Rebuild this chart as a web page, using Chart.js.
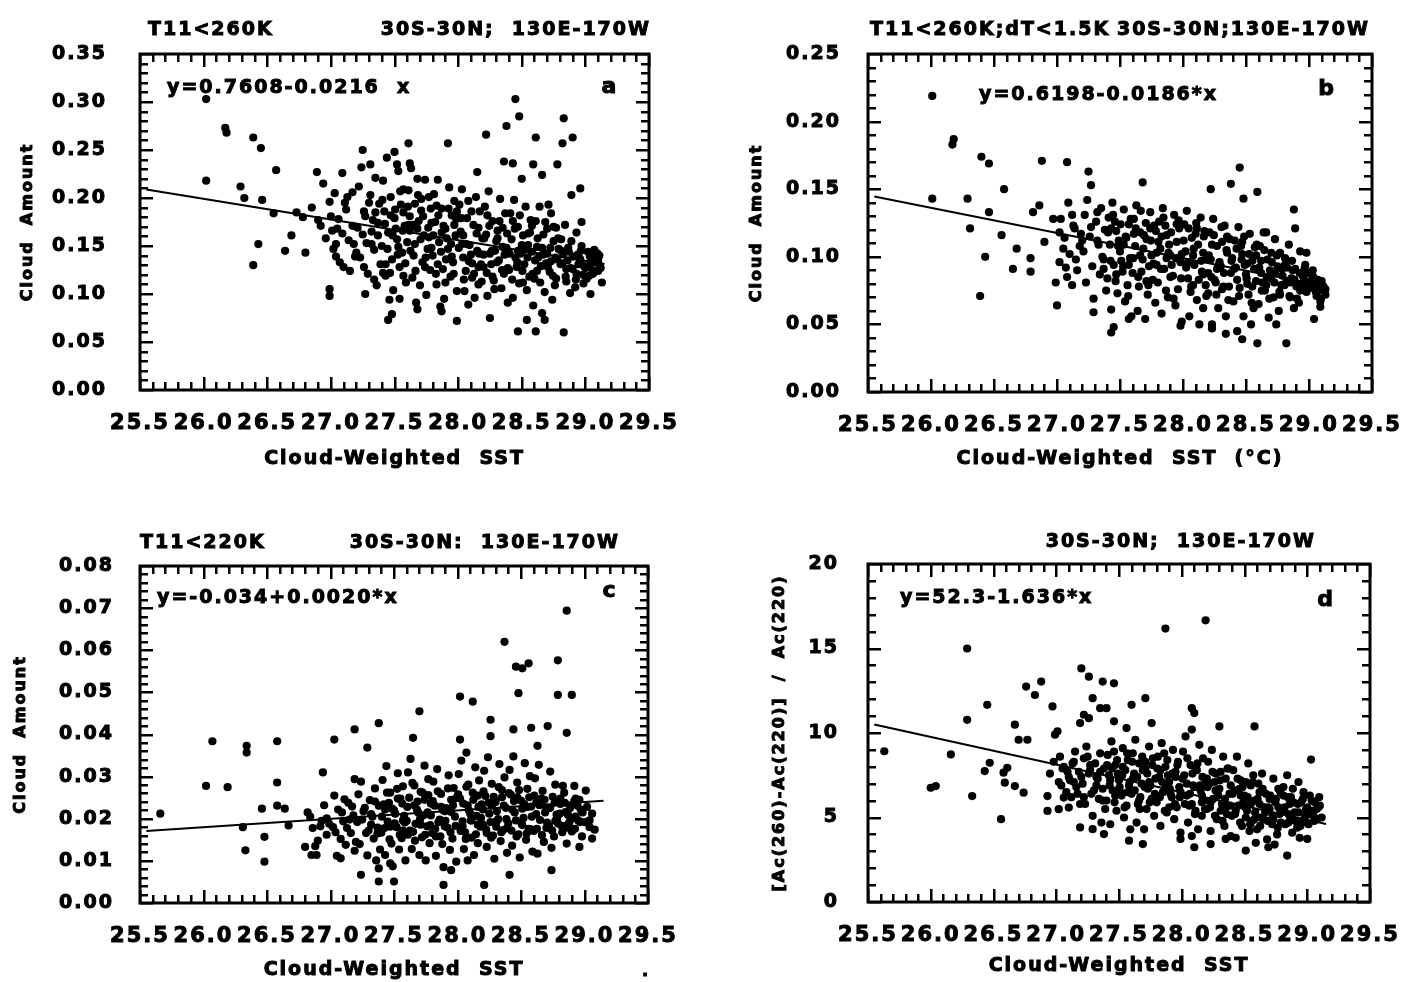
<!DOCTYPE html>
<html lang="en">
<head>
<meta charset="UTF-8">
<title>Cloud Amount vs Cloud-Weighted SST</title>
<script src="https://cdn.jsdelivr.net/npm/chart.js"></script>
<style>
  body { margin: 0; background: #fff; }
  .sheet { position: relative; width: 1405px; height: 982px; overflow: hidden; }
  .sheet canvas { position: absolute; }
</style>
</head>
<body>
<div class="sheet">
  <canvas id="panelA" width="702" height="490" style="left:0;top:0"></canvas>
  <canvas id="panelB" width="703" height="490" style="left:702px;top:0"></canvas>
  <canvas id="panelC" width="702" height="492" style="left:0;top:490px"></canvas>
  <canvas id="panelD" width="703" height="492" style="left:702px;top:490px"></canvas>
</div>
<script>
// shared x axis (cloud-weighted SST, deg C)
const sstTicks = [25.5, 26.0, 26.5, 27.0, 27.5, 28.0, 28.5, 29.0, 29.5];
const fitSpan = [25.55, 29.15];

// y axis ticks per panel
const cloudTicksA = [0, 0.05, 0.10, 0.15, 0.20, 0.25, 0.30, 0.35];
const cloudTicksB = [0, 0.05, 0.10, 0.15, 0.20, 0.25];
const cloudTicksC = [0, 0.01, 0.02, 0.03, 0.04, 0.05, 0.06, 0.07, 0.08];
const ratioTicksD = [0, 5, 10, 15, 20];

// regression fits [intercept, slope]
const fitA = [0.7608, -0.0216];
const fitB = [0.6198, -0.0186];
const fitC = [-0.034, 0.0020];
const fitD = [52.3, -1.636];

// (a) T11<260K
const pointsA = [
  [26.02,0.303],[26.02,0.218],[26.17,0.273],[26.18,0.268],[26.29,0.212],[26.32,0.2],[26.39,0.263],[26.45,0.252],
  [26.39,0.13],[26.43,0.152],[26.46,0.198],[26.57,0.229],[26.55,0.184],[26.64,0.145],[26.69,0.161],[26.73,0.185],
  [26.78,0.18],[26.8,0.143],[26.85,0.19],[26.89,0.227],[26.9,0.177],[26.94,0.215],[26.99,0.105],[26.99,0.098],
  [26.99,0.196],[27.01,0.166],[27.04,0.152],[27.09,0.226],[27.1,0.128],[27.17,0.206],[27.2,0.143],[27.25,0.25],
  [27.27,0.1],[27.31,0.235],[27.34,0.115],[27.41,0.122],[27.45,0.073],[27.48,0.079],[27.5,0.248],[27.52,0.235],
  [27.54,0.095],[27.61,0.257],[27.62,0.236],[27.68,0.084],[27.68,0.22],[27.87,0.082],[27.92,0.257],[27.99,0.072],
  [28.15,0.227],[28.22,0.266],[28.25,0.075],[28.38,0.275],[28.36,0.238],[28.43,0.236],[28.45,0.303],[28.48,0.285],
  [28.5,0.22],[28.47,0.061],[28.54,0.073],[28.61,0.263],[28.59,0.235],[28.61,0.061],[28.66,0.224],[28.66,0.08],
  [28.68,0.073],[28.78,0.235],[28.82,0.257],[28.83,0.283],[28.83,0.06],[28.9,0.263],[28.89,0.203],[28.96,0.21],
  [28.97,0.175],[29.04,0.1],[29.13,0.112],[29.11,0.14],[28.71,0.193],[28.75,0.17],
  [27.03,0.205],[27.12,0.188],[27.06,0.178],[27.17,0.171],[27.09,0.163],[27.14,0.156],[27.02,0.147],[27.19,0.139],
  [27.07,0.133],[27.15,0.124],[27.11,0.195],[27.05,0.168],
  [27.24,0.232],[27.35,0.221],[27.22,0.212],[27.31,0.203],[27.38,0.194],[27.26,0.186],[27.33,0.177],[27.21,0.169],
  [27.37,0.161],[27.28,0.153],[27.34,0.146],[27.23,0.138],[27.39,0.131],[27.29,0.121],[27.36,0.109],[27.27,0.181],[27.32,0.165],
  [27.44,0.242],[27.53,0.228],[27.41,0.218],[27.57,0.209],[27.47,0.201],[27.55,0.193],[27.42,0.186],[27.5,0.179],
  [27.58,0.171],[27.45,0.164],[27.52,0.157],[27.4,0.15],[27.56,0.143],[27.48,0.136],[27.54,0.128],[27.43,0.119],
  [27.59,0.112],[27.49,0.104],[27.46,0.094],[27.51,0.168],[27.57,0.185],
  [27.63,0.231],[27.74,0.219],[27.61,0.208],[27.77,0.201],[27.66,0.194],[27.71,0.187],[27.62,0.181],[27.79,0.174],
  [27.68,0.168],[27.73,0.161],[27.6,0.154],[27.76,0.147],[27.65,0.14],[27.72,0.133],[27.78,0.125],[27.64,0.117],
  [27.7,0.109],[27.75,0.099],[27.67,0.091],[27.69,0.176],[27.77,0.159],[27.62,0.166],
  [27.84,0.219],[27.93,0.211],[27.81,0.204],[27.97,0.197],[27.87,0.189],[27.95,0.182],[27.82,0.175],[27.9,0.168],
  [27.98,0.161],[27.85,0.154],[27.92,0.147],[27.8,0.14],[27.96,0.133],[27.88,0.126],[27.94,0.118],[27.83,0.11],
  [27.99,0.103],[27.89,0.095],[27.86,0.087],[27.91,0.158],[27.97,0.172],[27.84,0.131],
  [28.03,0.209],[28.14,0.201],[28.01,0.193],[28.17,0.186],[28.07,0.179],[28.12,0.172],[28.02,0.165],[28.19,0.158],
  [28.09,0.151],[28.15,0.145],[28.04,0.138],[28.18,0.131],[28.06,0.124],[28.11,0.117],[28.16,0.11],[28.05,0.103],
  [28.13,0.096],[28.08,0.089],[28.1,0.141],[28.16,0.128],[28.03,0.152],
  [28.24,0.207],[28.33,0.199],[28.21,0.191],[28.37,0.184],[28.27,0.176],[28.35,0.169],[28.22,0.162],[28.3,0.155],
  [28.38,0.148],[28.25,0.142],[28.32,0.135],[28.2,0.128],[28.36,0.121],[28.28,0.114],[28.34,0.106],[28.23,0.098],
  [28.39,0.091],[28.29,0.145],[28.26,0.131],[28.31,0.158],
  [28.44,0.198],[28.53,0.191],[28.41,0.184],[28.57,0.177],[28.47,0.17],[28.55,0.163],[28.42,0.157],[28.5,0.151],
  [28.58,0.144],[28.45,0.138],[28.52,0.131],[28.4,0.125],[28.56,0.118],[28.48,0.111],[28.54,0.104],[28.43,0.096],
  [28.59,0.088],[28.49,0.142],[28.46,0.128],[28.51,0.161],
  [28.64,0.191],[28.73,0.184],[28.61,0.176],[28.77,0.169],[28.67,0.162],[28.75,0.155],[28.62,0.149],[28.7,0.142],
  [28.78,0.136],[28.65,0.129],[28.72,0.123],[28.6,0.116],[28.76,0.109],[28.68,0.102],[28.74,0.094],[28.63,0.138],
  [28.69,0.132],[28.79,0.147],
  [28.84,0.172],[28.93,0.164],[28.81,0.157],[28.97,0.15],[28.87,0.144],[28.95,0.138],[28.82,0.132],[28.9,0.126],
  [28.98,0.12],[28.85,0.113],[28.92,0.107],[28.88,0.101],[28.94,0.141],[28.86,0.135],[28.99,0.129],
  [29.02,0.144],[29.08,0.138],[29.04,0.132],[29.12,0.127],[29.06,0.121],[29.01,0.116],[29.1,0.135],[29.05,0.141],
  // densest part of the cloud
  [26.92,0.171],[26.96,0.158],[27.0,0.181],[27.04,0.139],[27.13,0.201],[27.18,0.152],[27.26,0.128],[27.3,0.195],[27.25,0.162],[27.35,0.185],
  [27.405,0.198],[27.425,0.173],[27.445,0.147],[27.465,0.122],[27.485,0.161],[27.505,0.188],[27.525,0.141],[27.545,0.207],[27.565,0.166],[27.585,0.132],
  [27.605,0.191],[27.625,0.145],[27.645,0.172],[27.665,0.124],[27.685,0.203],[27.705,0.157],[27.725,0.181],[27.745,0.138],[27.765,0.169],[27.785,0.189],
  [27.805,0.161],[27.825,0.121],[27.845,0.182],[27.865,0.144],[27.885,0.171],[27.905,0.136],[27.925,0.189],[27.945,0.152],[27.965,0.121],[27.985,0.178],
  [28.005,0.148],[28.025,0.179],[28.045,0.115],[28.065,0.152],[28.085,0.134],[28.105,0.186],[28.125,0.121],[28.145,0.163],[28.165,0.142],[28.185,0.113],
  [28.205,0.158],[28.225,0.122],[28.245,0.171],[28.265,0.145],[28.285,0.105],[28.305,0.133],[28.325,0.176],[28.345,0.125],[28.365,0.141],[28.385,0.163],
  [28.405,0.142],[28.425,0.115],[28.445,0.168],[28.465,0.133],[28.485,0.182],[28.505,0.124],[28.525,0.146],[28.545,0.138],[28.565,0.164],[28.585,0.121],
  [28.605,0.135],[28.625,0.158],[28.645,0.112],[28.665,0.141],[28.685,0.175],[28.705,0.128],[28.725,0.148],[28.745,0.119],[28.765,0.138],[28.785,0.158],
  [28.805,0.131],[28.825,0.142],[28.845,0.118],[28.865,0.148],[28.885,0.127],[28.905,0.139],[28.925,0.115],[28.945,0.131],[28.965,0.145],[28.985,0.111],
  [29.015,0.128],[29.035,0.139],[29.055,0.125],[29.075,0.133],[29.095,0.142],[29.115,0.129],
  [27.32,0.152],[27.37,0.174],[27.43,0.131],[27.47,0.182],[27.53,0.149],[27.57,0.119],[27.61,0.172],[27.66,0.152],[27.71,0.199],[27.74,0.128],
  [27.79,0.148],[27.83,0.192],[27.87,0.164],[27.9,0.112],[27.95,0.139],[27.99,0.186],[28.04,0.161],[28.08,0.197],[28.11,0.132],[28.16,0.169],
  [28.2,0.141],[28.23,0.182],[28.27,0.118],[28.31,0.166],[28.35,0.149],[28.39,0.127],[28.43,0.176],[28.47,0.145],[28.51,0.112],[28.55,0.151],
  [28.58,0.171],[28.62,0.124],[28.66,0.148],[28.7,0.168],[28.73,0.134],[28.77,0.116],[28.81,0.145],[28.85,0.126],[28.89,0.155],[28.93,0.121],
  [28.96,0.136],[29.0,0.127],[29.03,0.119],[29.07,0.146],[29.1,0.124]
];

// (b) T11<260K; dT<1.5K
const pointsB = [
  [26.01,0.219],[26.18,0.187],[26.17,0.183],[26.01,0.143],[26.29,0.143],[26.31,0.121],[26.4,0.174],[26.46,0.169],
  [26.46,0.133],[26.43,0.1],[26.39,0.071],[26.58,0.15],[26.56,0.116],[26.65,0.091],[26.68,0.106],[26.79,0.089],
  [26.79,0.099],[26.81,0.133],[26.88,0.171],[26.86,0.138],[26.9,0.111],[26.97,0.128],[26.99,0.081],[27.0,0.064],
  [27.08,0.17],[27.09,0.14],[27.13,0.123],[27.25,0.163],[27.27,0.153],[27.29,0.059],[27.43,0.044],[27.45,0.048],
  [27.68,0.155],[27.57,0.054],[27.98,0.049],[28.22,0.15],[28.23,0.047],[28.34,0.043],[28.38,0.154],[28.45,0.166],
  [28.48,0.143],[28.59,0.148],[28.47,0.039],[28.59,0.036],[28.82,0.036],[28.88,0.135],[28.89,0.121],[28.98,0.103],
  [29.04,0.054],[29.09,0.063],[29.13,0.076],[28.66,0.118],
  [27.03,0.128],[27.14,0.121],[27.06,0.114],[27.18,0.108],[27.1,0.102],[27.02,0.096],[27.16,0.09],[27.08,0.085],
  [27.12,0.079],[27.19,0.117],[27.05,0.106],
  [27.24,0.142],[27.35,0.136],[27.22,0.131],[27.31,0.126],[27.38,0.12],[27.26,0.115],[27.33,0.109],[27.21,0.104],
  [27.37,0.098],[27.28,0.093],[27.34,0.087],[27.23,0.081],[27.39,0.075],[27.29,0.069],[27.36,0.1],[27.27,0.122],[27.32,0.133],
  [27.44,0.14],[27.53,0.135],[27.41,0.129],[27.57,0.124],[27.47,0.119],[27.55,0.114],[27.42,0.109],[27.5,0.104],
  [27.58,0.099],[27.45,0.094],[27.52,0.089],[27.4,0.084],[27.56,0.079],[27.48,0.073],[27.54,0.067],[27.43,0.061],
  [27.59,0.056],[27.49,0.112],[27.51,0.097],[27.46,0.126],
  [27.63,0.138],[27.74,0.133],[27.61,0.128],[27.77,0.123],[27.66,0.118],[27.71,0.113],[27.62,0.108],[27.79,0.103],
  [27.68,0.098],[27.73,0.093],[27.6,0.088],[27.76,0.083],[27.65,0.078],[27.72,0.072],[27.78,0.066],[27.64,0.06],
  [27.7,0.054],[27.69,0.116],[27.75,0.101],[27.67,0.089],
  [27.84,0.136],[27.93,0.131],[27.81,0.126],[27.97,0.121],[27.87,0.116],[27.95,0.111],[27.82,0.106],[27.9,0.101],
  [27.98,0.096],[27.85,0.091],[27.92,0.086],[27.8,0.081],[27.96,0.076],[27.88,0.07],[27.94,0.064],[27.83,0.058],
  [27.99,0.052],[27.89,0.109],[27.91,0.094],[27.86,0.123],
  [28.03,0.134],[28.14,0.129],[28.01,0.124],[28.17,0.119],[28.07,0.114],[28.12,0.109],[28.02,0.104],[28.19,0.099],
  [28.09,0.094],[28.15,0.089],[28.04,0.084],[28.18,0.079],[28.06,0.074],[28.11,0.068],[28.16,0.062],[28.05,0.056],
  [28.13,0.05],[28.08,0.101],[28.1,0.117],[28.16,0.087],
  [28.24,0.128],[28.33,0.123],[28.21,0.118],[28.37,0.113],[28.27,0.108],[28.35,0.103],[28.22,0.098],[28.3,0.093],
  [28.38,0.088],[28.25,0.083],[28.32,0.078],[28.2,0.073],[28.36,0.068],[28.28,0.062],[28.34,0.056],[28.23,0.05],
  [28.29,0.096],[28.31,0.111],[28.26,0.081],
  [28.44,0.122],[28.53,0.117],[28.41,0.112],[28.57,0.107],[28.47,0.102],[28.55,0.097],[28.42,0.092],[28.5,0.087],
  [28.58,0.082],[28.45,0.077],[28.52,0.072],[28.4,0.067],[28.56,0.062],[28.48,0.056],[28.54,0.05],[28.43,0.045],
  [28.49,0.094],[28.51,0.08],[28.46,0.108],
  [28.64,0.118],[28.73,0.113],[28.61,0.108],[28.77,0.103],[28.67,0.098],[28.75,0.093],[28.62,0.088],[28.7,0.084],
  [28.78,0.079],[28.65,0.075],[28.72,0.07],[28.6,0.065],[28.76,0.06],[28.68,0.055],[28.74,0.05],[28.69,0.09],
  [28.63,0.081],[28.79,0.086],
  [28.84,0.109],[28.93,0.104],[28.81,0.099],[28.97,0.094],[28.87,0.09],[28.95,0.086],[28.82,0.082],[28.9,0.078],
  [28.98,0.074],[28.85,0.07],[28.92,0.066],[28.88,0.062],[28.94,0.08],[28.86,0.084],[28.99,0.088],
  [29.02,0.088],[29.07,0.083],[29.04,0.079],[29.11,0.075],[29.06,0.071],[29.01,0.082],[29.09,0.067],[29.13,0.072],
  // densest part of the cloud
  [27.02,0.118],[27.07,0.092],[27.15,0.098],[27.12,0.131],[27.2,0.112],
  [27.405,0.118],[27.425,0.097],[27.445,0.131],[27.465,0.082],[27.485,0.108],[27.505,0.124],[27.525,0.093],[27.545,0.115],[27.565,0.071],[27.585,0.128],
  [27.605,0.099],[27.625,0.121],[27.645,0.085],[27.665,0.134],[27.685,0.106],[27.705,0.125],[27.725,0.079],[27.745,0.112],[27.765,0.095],[27.785,0.119],
  [27.805,0.111],[27.825,0.091],[27.845,0.129],[27.865,0.075],[27.885,0.103],[27.905,0.118],[27.925,0.069],[27.945,0.099],[27.965,0.127],[27.985,0.084],
  [28.005,0.112],[28.025,0.092],[28.045,0.121],[28.065,0.078],[28.085,0.106],[28.105,0.125],[28.125,0.083],[28.145,0.097],[28.165,0.115],[28.185,0.071],
  [28.205,0.101],[28.225,0.085],[28.245,0.116],[28.265,0.072],[28.285,0.094],[28.305,0.122],[28.325,0.088],[28.345,0.105],[28.365,0.078],[28.385,0.097],
  [28.405,0.091],[28.425,0.106],[28.445,0.071],[28.465,0.098],[28.485,0.115],[28.505,0.084],[28.525,0.102],[28.545,0.066],[28.565,0.091],[28.585,0.109],
  [28.605,0.092],[28.625,0.075],[28.645,0.105],[28.665,0.085],[28.685,0.069],[28.705,0.096],[28.725,0.081],[28.745,0.101],[28.765,0.074],[28.785,0.091],
  [28.805,0.079],[28.825,0.092],[28.845,0.071],[28.865,0.097],[28.885,0.083],[28.905,0.069],[28.925,0.088],[28.945,0.076],[28.965,0.091],[28.985,0.081],
  [29.015,0.077],[29.035,0.085],[29.055,0.074],[29.075,0.08],[29.095,0.069],[29.115,0.078],
  [27.32,0.112],[27.37,0.091],[27.43,0.121],[27.47,0.087],[27.53,0.109],[27.57,0.094],[27.61,0.117],[27.66,0.101],[27.71,0.082],[27.74,0.121],
  [27.79,0.094],[27.83,0.115],[27.87,0.099],[27.9,0.085],[27.95,0.124],[27.99,0.102],[28.04,0.096],[28.08,0.079],[28.11,0.121],[28.16,0.103],
  [28.2,0.088],[28.23,0.109],[28.27,0.091],[28.31,0.076],[28.35,0.115],[28.39,0.099],[28.43,0.083],[28.47,0.111],[28.51,0.095],[28.55,0.078],
  [28.58,0.101],[28.62,0.097],[28.66,0.079],[28.7,0.103],[28.73,0.088],[28.77,0.072],[28.81,0.094],[28.85,0.081],[28.89,0.091],[28.93,0.075],
  [28.96,0.083],[29.0,0.078],[29.03,0.09],[29.07,0.076],[29.1,0.082]
];

// (c) T11<220K
const pointsC = [
  [25.66,0.0212],[26.07,0.0384],[26.02,0.0278],[26.19,0.0275],[26.34,0.0373],[26.34,0.0357],[26.46,0.0224],[26.48,0.0157],
  [26.48,0.0098],[26.33,0.0125],[26.31,0.018],[26.58,0.0384],[26.58,0.0286],[26.58,0.0231],[26.64,0.0224],[26.67,0.0184],
  [26.8,0.0133],[26.85,0.0114],[26.89,0.0114],[26.94,0.031],[27.03,0.0388],[27.08,0.0106],[27.19,0.0412],[27.19,0.0294],
  [27.29,0.0369],[27.24,0.0067],[27.38,0.0427],[27.38,0.0051],[27.38,0.0082],[27.5,0.0051],[27.47,0.0094],[27.7,0.0455],
  [27.65,0.0392],[27.89,0.0043],[27.95,0.0078],[28.02,0.049],[28.12,0.0478],[28.02,0.0388],[28.07,0.0357],[28.21,0.0043],
  [28.26,0.0435],[28.26,0.0396],[28.37,0.062],[28.44,0.0412],[28.48,0.0498],[28.46,0.0561],[28.51,0.0557],[28.56,0.0569],
  [28.41,0.0067],[28.58,0.0416],[28.71,0.042],[28.63,0.0373],[28.74,0.0078],[28.79,0.0576],[28.79,0.0494],[28.9,0.0494],
  [28.86,0.0694],[28.86,0.0404],[28.83,0.0278],[28.92,0.0278],[29.01,0.0267],[28.86,0.0141],[28.96,0.0133],[29.06,0.0153],
  [29.04,0.018],[28.9,0.0176],
  [26.82,0.0215],[26.93,0.0195],[26.86,0.0178],[26.97,0.0162],[26.9,0.0148],[26.84,0.0205],[26.95,0.0232],[26.88,0.0135],[26.99,0.0188],
  [27.03,0.0255],[27.14,0.0238],[27.06,0.0222],[27.18,0.0208],[27.1,0.0194],[27.02,0.018],[27.16,0.0166],[27.08,0.0152],
  [27.12,0.0138],[27.19,0.0124],[27.05,0.0112],[27.15,0.0198],[27.11,0.0246],
  [27.24,0.0288],[27.35,0.0272],[27.22,0.0258],[27.31,0.0244],[27.38,0.0231],[27.26,0.0218],[27.33,0.0205],[27.21,0.0192],
  [27.37,0.0179],[27.28,0.0166],[27.34,0.0153],[27.23,0.014],[27.39,0.0127],[27.29,0.0113],[27.36,0.0101],[27.27,0.0226],[27.32,0.0186],
  [27.44,0.0325],[27.53,0.0308],[27.41,0.0292],[27.57,0.0277],[27.47,0.0262],[27.55,0.0248],[27.42,0.0234],[27.5,0.022],
  [27.58,0.0207],[27.45,0.0193],[27.52,0.018],[27.4,0.0167],[27.56,0.0154],[27.48,0.0141],[27.54,0.0127],[27.43,0.0114],
  [27.59,0.0101],[27.49,0.0087],[27.51,0.0212],[27.46,0.0238],[27.57,0.0172],
  [27.63,0.0342],[27.74,0.0326],[27.61,0.031],[27.77,0.0294],[27.66,0.0279],[27.71,0.0264],[27.62,0.025],[27.79,0.0236],
  [27.68,0.0222],[27.73,0.0208],[27.6,0.0195],[27.76,0.0182],[27.65,0.0169],[27.72,0.0156],[27.78,0.0142],[27.64,0.0128],
  [27.7,0.0114],[27.75,0.0101],[27.69,0.0215],[27.67,0.0188],[27.77,0.0256],
  [27.84,0.0318],[27.93,0.0303],[27.81,0.0288],[27.97,0.0273],[27.87,0.0259],[27.95,0.0245],[27.82,0.0231],[27.9,0.0218],
  [27.98,0.0205],[27.85,0.0192],[27.92,0.0179],[27.8,0.0166],[27.96,0.0153],[27.88,0.014],[27.94,0.0126],[27.83,0.0112],
  [27.99,0.0098],[27.89,0.0085],[27.91,0.0225],[27.86,0.0198],
  [28.03,0.0338],[28.14,0.0322],[28.01,0.0306],[28.17,0.0291],[28.07,0.0276],[28.12,0.0262],[28.02,0.0248],[28.19,0.0234],
  [28.09,0.022],[28.15,0.0207],[28.04,0.0194],[28.18,0.0181],[28.06,0.0168],[28.11,0.0155],[28.16,0.0142],[28.05,0.0128],
  [28.13,0.0114],[28.08,0.0101],[28.1,0.0212],[28.16,0.0186],
  [28.24,0.0346],[28.33,0.033],[28.21,0.0314],[28.37,0.0298],[28.27,0.0283],[28.35,0.0268],[28.22,0.0254],[28.3,0.024],
  [28.38,0.0226],[28.25,0.0212],[28.32,0.0199],[28.2,0.0186],[28.36,0.0173],[28.28,0.016],[28.34,0.0147],[28.23,0.0133],
  [28.39,0.0119],[28.29,0.0105],[28.31,0.0218],[28.26,0.0192],
  [28.44,0.0348],[28.53,0.0332],[28.41,0.0316],[28.57,0.0301],[28.47,0.0286],[28.55,0.0271],[28.42,0.0257],[28.5,0.0243],
  [28.58,0.0229],[28.45,0.0215],[28.52,0.0202],[28.4,0.0189],[28.56,0.0176],[28.48,0.0163],[28.54,0.015],[28.43,0.0136],
  [28.59,0.0122],[28.49,0.0108],[28.51,0.0224],[28.46,0.0196],
  [28.64,0.0328],[28.73,0.0312],[28.61,0.0296],[28.77,0.0281],[28.67,0.0266],[28.75,0.0252],[28.62,0.0238],[28.7,0.0224],
  [28.78,0.021],[28.65,0.0197],[28.72,0.0184],[28.6,0.0171],[28.76,0.0158],[28.68,0.0145],[28.74,0.0131],[28.63,0.0117],
  [28.69,0.0215],[28.79,0.0189],
  [28.84,0.0262],[28.93,0.0248],[28.81,0.0235],[28.97,0.0222],[28.87,0.0209],[28.95,0.0196],[28.82,0.0183],[28.9,0.017],
  [28.98,0.0158],[28.85,0.0216],[28.92,0.0242],[28.88,0.0191],
  [29.02,0.0228],[29.06,0.0212],[29.04,0.0196],[29.08,0.0174],
  // densest part of the cloud
  [26.92,0.0182],[26.97,0.0201],[27.04,0.0168],[27.09,0.0215],[27.13,0.0178],[27.17,0.0229],[27.2,0.0145],[27.25,0.0198],[27.3,0.0172],[27.35,0.0241],
  [27.405,0.0205],[27.425,0.0178],[27.445,0.0262],[27.465,0.0151],[27.485,0.0224],[27.505,0.0189],[27.525,0.0271],[27.545,0.0162],[27.565,0.0236],[27.585,0.0191],
  [27.605,0.0228],[27.625,0.0172],[27.645,0.0285],[27.665,0.0148],[27.685,0.0241],[27.705,0.0199],[27.725,0.0262],[27.745,0.0162],[27.765,0.0215],[27.785,0.0185],
  [27.805,0.0242],[27.825,0.0176],[27.845,0.0265],[27.865,0.0158],[27.885,0.0221],[27.905,0.0195],[27.925,0.0272],[27.945,0.0168],[27.965,0.0232],[27.985,0.0183],
  [28.005,0.0258],[28.025,0.0171],[28.045,0.0236],[28.065,0.0152],[28.085,0.0281],[28.105,0.0196],[28.125,0.0245],[28.145,0.0163],[28.165,0.0228],[28.185,0.0202],
  [28.205,0.0265],[28.225,0.0175],[28.245,0.0238],[28.265,0.0155],[28.285,0.0252],[28.305,0.0181],[28.325,0.0275],[28.345,0.0168],[28.365,0.0231],[28.385,0.0199],
  [28.405,0.0261],[28.425,0.0172],[28.445,0.0242],[28.465,0.0158],[28.485,0.0268],[28.505,0.0188],[28.525,0.0235],[28.545,0.0165],[28.565,0.0251],[28.585,0.0205],
  [28.605,0.0255],[28.625,0.0176],[28.645,0.0232],[28.665,0.0161],[28.685,0.0245],[28.705,0.0191],[28.725,0.0226],[28.745,0.0172],[28.765,0.0238],[28.785,0.0202],
  [28.805,0.0212],[28.825,0.0168],[28.845,0.0238],[28.865,0.0185],[28.885,0.0225],[28.905,0.0201],[28.925,0.0176],[28.945,0.0231],[28.965,0.0192],[28.985,0.0215],
  [27.32,0.0211],[27.37,0.0165],[27.43,0.0222],[27.47,0.0181],[27.53,0.0248],[27.57,0.0196],[27.61,0.0162],[27.66,0.0232],[27.71,0.0186],[27.74,0.0245],
  [27.79,0.0208],[27.83,0.0158],[27.87,0.0228],[27.9,0.0182],[27.95,0.0216],[27.99,0.0249],[28.04,0.0182],[28.08,0.0232],[28.11,0.0196],[28.16,0.0255],
  [28.2,0.0222],[28.23,0.0166],[28.27,0.0231],[28.31,0.0195],[28.35,0.0251],[28.39,0.0178],[28.43,0.0222],[28.47,0.0251],[28.51,0.0185],[28.55,0.0228],
  [28.58,0.0175],[28.62,0.0211],[28.66,0.0248],[28.7,0.0178],[28.73,0.0226],[28.77,0.0195],[28.81,0.0248],[28.85,0.0178],[28.89,0.0232],[28.93,0.0205],
  [28.96,0.0245],[29.0,0.0192]
];

// (d) [Ac(260)-Ac(220)] / Ac(220)
const pointsD = [
  [25.63,8.92],[26.16,8.73],[26.0,6.76],[26.04,6.86],[26.29,15.0],[26.29,10.78],[26.33,6.27],[26.45,11.67],
  [26.43,7.75],[26.47,8.24],[26.56,4.9],[26.58,7.65],[26.61,7.94],[26.59,7.06],[26.67,6.86],[26.67,10.49],
  [26.74,6.47],[26.76,12.75],[26.83,12.25],[26.88,13.04],[26.7,9.6],[26.77,9.6],[26.97,11.57],[26.99,9.9],
  [27.01,10.1],[26.93,5.39],[26.93,6.27],[27.02,5.49],[27.06,6.18],[27.1,5.59],[27.19,4.41],[27.2,13.82],
  [27.26,13.33],[27.29,4.31],[27.37,13.04],[27.46,12.94],[27.29,12.06],[27.35,11.47],[27.4,11.47],[27.22,11.08],
  [27.19,10.59],[27.26,10.88],[27.38,4.02],[27.46,10.69],[27.56,10.29],[27.6,11.67],[27.71,12.06],[27.76,10.59],
  [27.58,3.63],[27.69,3.43],[27.87,16.18],[28.19,16.67],[28.08,11.47],[28.1,11.18],[28.08,10.2],[28.3,10.39],
  [27.99,3.73],[28.1,3.24],[28.23,3.43],[28.35,3.73],[28.51,3.04],[28.58,10.39],[28.69,3.24],[28.84,2.75],
  [29.0,3.73],[29.03,8.43],[29.02,5.2],
  [27.03,8.6],[27.14,8.3],[27.06,8.0],[27.18,7.7],[27.1,7.4],[27.02,7.1],[27.16,6.8],[27.08,6.5],
  [27.12,6.2],[27.19,5.8],[27.05,7.9],[27.15,8.9],[27.11,7.2],
  [27.24,9.2],[27.35,8.8],[27.22,8.5],[27.31,8.2],[27.38,7.9],[27.26,7.6],[27.33,7.3],[27.21,7.0],
  [27.37,6.7],[27.28,6.4],[27.34,6.1],[27.23,5.8],[27.39,5.5],[27.29,5.1],[27.36,4.7],[27.27,7.8],[27.32,6.9],
  [27.44,9.5],[27.53,9.1],[27.41,8.7],[27.57,8.4],[27.47,8.1],[27.55,7.8],[27.42,7.5],[27.5,7.2],
  [27.58,6.9],[27.45,6.6],[27.52,6.3],[27.4,6.0],[27.56,5.7],[27.48,5.4],[27.54,5.0],[27.43,4.6],
  [27.59,4.3],[27.49,7.6],[27.51,6.5],[27.46,8.9],
  [27.63,9.6],[27.74,9.2],[27.61,8.8],[27.77,8.5],[27.66,8.2],[27.71,7.9],[27.62,7.6],[27.79,7.3],
  [27.68,7.0],[27.73,6.7],[27.6,6.4],[27.76,6.1],[27.65,5.8],[27.72,5.5],[27.78,5.1],[27.64,4.7],
  [27.7,4.3],[27.69,7.8],[27.75,6.9],[27.67,6.2],
  [27.84,9.4],[27.93,9.0],[27.81,8.6],[27.97,8.3],[27.87,8.0],[27.95,7.7],[27.82,7.4],[27.9,7.1],
  [27.98,6.8],[27.85,6.5],[27.92,6.2],[27.8,5.9],[27.96,5.6],[27.88,5.3],[27.94,4.9],[27.83,4.5],
  [27.99,4.1],[27.89,7.5],[27.91,6.4],[27.86,8.8],
  [28.03,9.8],[28.14,9.3],[28.01,8.9],[28.17,8.5],[28.07,8.1],[28.12,7.8],[28.02,7.5],[28.19,7.2],
  [28.09,6.9],[28.15,6.6],[28.04,6.3],[28.18,6.0],[28.06,5.7],[28.11,5.4],[28.16,5.1],[28.05,4.7],
  [28.13,4.3],[28.08,3.9],[28.1,6.8],[28.16,5.9],
  [28.24,9.0],[28.33,8.6],[28.21,8.3],[28.37,7.9],[28.27,7.6],[28.35,7.3],[28.22,7.0],[28.3,6.7],
  [28.38,6.4],[28.25,6.1],[28.32,5.8],[28.2,5.5],[28.36,5.2],[28.28,4.9],[28.34,4.5],[28.23,4.2],
  [28.39,3.9],[28.29,6.3],[28.31,5.4],[28.26,7.1],
  [28.44,8.6],[28.53,8.2],[28.41,7.8],[28.57,7.5],[28.47,7.2],[28.55,6.9],[28.42,6.6],[28.5,6.3],
  [28.58,6.0],[28.45,5.7],[28.52,5.4],[28.4,5.1],[28.56,4.8],[28.48,4.5],[28.54,4.2],[28.43,3.8],
  [28.59,3.5],[28.49,5.9],[28.51,5.0],[28.46,6.7],
  [28.64,7.6],[28.73,7.3],[28.61,7.0],[28.77,6.7],[28.67,6.4],[28.75,6.1],[28.62,5.8],[28.7,5.5],
  [28.78,5.2],[28.65,4.9],[28.72,4.6],[28.6,4.3],[28.76,4.0],[28.68,3.7],[28.74,3.4],[28.69,5.6],
  [28.63,5.0],[28.79,4.7],
  [28.84,7.5],[28.93,7.1],[28.81,6.8],[28.97,6.5],[28.87,6.2],[28.95,5.9],[28.82,5.6],[28.9,5.3],
  [28.98,5.0],[28.85,4.7],[28.92,4.4],[28.88,4.1],[28.94,3.8],[28.86,5.8],[28.99,5.5],
  [29.02,6.3],[29.06,5.9],[29.04,5.4],[29.08,4.9],[29.01,4.6],[29.09,5.6],
  // densest part of the cloud
  [26.95,7.6],[26.98,8.3],[27.04,6.9],[27.09,7.7],[27.13,8.2],[27.17,6.4],[27.2,7.4],[27.25,8.6],[27.3,6.6],[27.35,7.7],
  [27.405,8.1],[27.425,6.9],[27.445,7.9],[27.465,5.9],[27.485,8.4],[27.505,6.8],[27.525,7.5],[27.545,5.6],[27.565,8.8],[27.585,7.1],
  [27.605,8.3],[27.625,6.6],[27.645,7.4],[27.665,5.5],[27.685,8.6],[27.705,6.8],[27.725,7.6],[27.745,5.9],[27.765,8.1],[27.785,6.4],
  [27.805,7.9],[27.825,6.2],[27.845,7.1],[27.865,5.4],[27.885,8.4],[27.905,6.7],[27.925,7.6],[27.945,5.8],[27.965,8.1],[27.985,6.2],
  [28.005,7.3],[28.025,5.8],[28.045,8.5],[28.065,6.4],[28.085,7.6],[28.105,5.2],[28.125,8.2],[28.145,6.9],[28.165,7.4],[28.185,5.5],
  [28.205,6.8],[28.225,5.6],[28.245,7.7],[28.265,5.1],[28.285,6.5],[28.305,7.2],[28.325,4.8],[28.345,6.1],[28.365,7.9],[28.385,5.7],
  [28.405,6.4],[28.425,5.2],[28.445,7.3],[28.465,4.7],[28.485,6.8],[28.505,5.6],[28.525,6.2],[28.545,4.6],[28.565,7.1],[28.585,5.3],
  [28.605,6.1],[28.625,4.5],[28.645,6.7],[28.665,5.3],[28.685,4.8],[28.705,6.3],[28.725,5.1],[28.745,5.9],[28.765,4.4],[28.785,6.5],
  [28.805,5.4],[28.825,4.6],[28.845,6.2],[28.865,5.0],[28.885,6.7],[28.905,4.8],[28.925,5.8],[28.945,4.5],[28.965,6.1],[28.985,5.2],
  [29.015,5.3],[29.035,6.0],[29.055,4.8],[29.075,5.5],[29.095,6.2],[29.115,5.0],
  [27.14,7.1],[27.22,6.2],[27.27,8.1],[27.32,7.4],[27.37,6.0],[27.43,7.2],[27.47,6.3],[27.53,8.0],[27.57,6.5],[27.61,7.3],
  [27.66,6.0],[27.71,8.3],[27.74,7.1],[27.79,6.3],[27.83,7.8],[27.87,6.8],[27.9,5.6],[27.95,7.4],[27.99,6.5],[28.04,7.0],
  [28.08,5.8],[28.11,7.9],[28.16,6.3],[28.2,7.3],[28.23,5.9],[28.27,6.6],[28.31,7.7],[28.35,5.6],[28.39,6.9],[28.43,5.4],
  [28.47,6.3],[28.51,7.1],[28.55,5.8],[28.58,4.9],[28.62,6.5],[28.66,5.6],[28.7,6.1],[28.73,4.9],[28.77,5.6],[28.81,6.3],
  [28.85,5.2],[28.89,5.9],[28.93,5.3],[28.96,4.7],[29.0,5.6],[29.05,5.1],[29.1,5.7]
];

const FONT = "'DejaVu Sans', sans-serif";
Chart.defaults.font.family = FONT;
Chart.defaults.font.weight = 'bold';
Chart.defaults.color = '#000';

const panels = [
  {
    id: 'panelA', points: pointsA, fit: fitA, yTicks: cloudTicksA, yMinor: 0.01, yDigits: 2,
    yTitle: 'Cloud  Amount', xTitle: 'Cloud-Weighted  SST',
    headLeft: 'T11<260K', headRight: '30S-30N;  130E-170W', eq: 'y=0.7608-0.0216  x', tag: 'a',
    padTop: 54, padRight: 53, yWidth: 140, xHeight: 100, yTickPad: 25,
    xTitleDy: 69, yTitleDx: -112,
    headY: 35, headLeftDx: 8, headRightDx: 2, eqDx: 27, eqDy: 39, tagDx: -39, tagDy: 39
  },
  {
    id: 'panelB', points: pointsB, fit: fitB, yTicks: cloudTicksB, yMinor: 0.01, yDigits: 2,
    yTitle: 'Cloud  Amount', xTitle: 'Cloud-Weighted  SST  (°C)',
    headLeft: 'T11<260K;dT<1.5K', headRight: '30S-30N;130E-170W', eq: 'y=0.6198-0.0186*x', tag: 'b',
    padTop: 54, padRight: 33, yWidth: 166, xHeight: 98, yTickPad: 19,
    xTitleDy: 67, yTitleDx: -111,
    headY: 35, headLeftDx: 2, headRightDx: -2, eqDx: 111, eqDy: 46, tagDx: -45, tagDy: 41
  },
  {
    id: 'panelC', points: pointsC, fit: fitC, yTicks: cloudTicksC, yMinor: 0.002, yDigits: 2,
    yTitle: 'Cloud  Amount', xTitle: 'Cloud-Weighted  SST',
    headLeft: 'T11<220K', headRight: '30S-30N:  130E-170W', eq: 'y=-0.034+0.0020*x', tag: 'c',
    padTop: 76, padRight: 54, yWidth: 140, xHeight: 79, yTickPad: 18,
    xTitleDy: 67, yTitleDx: -119,
    headY: 58, headLeftDx: 0, headRightDx: -28, eqDx: 17, eqDy: 37, tagDx: -38, tagDy: 31,
    stray: [-2, 73]
  },
  {
    id: 'panelD', points: pointsD, fit: fitD, yTicks: ratioTicksD, yMinor: 1, yDigits: 0,
    yTitle: '[Ac(260)-Ac(220)]  /  Ac(220)', xTitle: 'Cloud-Weighted  SST',
    headLeft: '', headRight: '30S-30N;  130E-170W', eq: 'y=52.3-1.636*x', tag: 'd',
    padTop: 74, padRight: 35, yWidth: 166, xHeight: 80, yTickPad: 21,
    xTitleDy: 64, yTitleDx: -88,
    headY: 57, headLeftDx: 0, headRightDx: -54, eqDx: 32, eqDy: 39, tagDx: -44, tagDy: 42
  }
];

// heavy lettering: fill plus a thin stroke of the same colour
function heavyText(ctx, text, x, y, size) {
  ctx.font = `bold ${size}px ${FONT}`;
  ctx.fillText(text, x, y);
  ctx.lineWidth = 1;
  ctx.strokeText(text, x, y);
}

// short inward tick marks along all four sides of the box
function drawBoxTicks(ctx, a, x, y, p) {
  const xFirst = sstTicks[0], xLast = sstTicks[sstTicks.length - 1];
  const nx = Math.round((xLast - xFirst) / 0.1);
  const yFirst = p.yTicks[0], yLast = p.yTicks[p.yTicks.length - 1];
  const ny = Math.round((yLast - yFirst) / p.yMinor);
  const perMajor = Math.round((p.yTicks[1] - p.yTicks[0]) / p.yMinor);
  ctx.fillStyle = '#000';
  for (let i = 0; i <= nx; i++) {
    const px = Math.round(x.getPixelForValue(xFirst + i * 0.1));
    const len = i % 5 === 0 ? 13 : 8;
    ctx.fillRect(px - 1, a.bottom - len, 2.5, len);
    ctx.fillRect(px - 1, a.top, 2.5, len);
  }
  for (let j = 0; j <= ny; j++) {
    const py = Math.round(y.getPixelForValue(yFirst + j * p.yMinor));
    const len = j % perMajor === 0 ? 13 : 8;
    ctx.fillRect(a.left, py - 1, len, 2.5);
    ctx.fillRect(a.right - len, py - 1, len, 2.5);
  }
}

// box outline, ticks, titles and annotations
function framePlugin(p) {
  return {
    id: 'frame',
    beforeDraw(chart) {
      chart.ctx.letterSpacing = '2px';
    },
    afterDraw(chart) {
      const ctx = chart.ctx;
      const a = chart.chartArea;
      const x = chart.scales.x, y = chart.scales.y;
      ctx.save();
      drawBoxTicks(ctx, a, x, y, p);
      ctx.strokeStyle = '#000';
      ctx.lineWidth = 3;
      ctx.strokeRect(a.left, a.top, a.right - a.left, a.bottom - a.top);

      ctx.fillStyle = '#000';
      ctx.letterSpacing = '2px';
      ctx.textBaseline = 'alphabetic';
      if (p.headLeft) {
        ctx.textAlign = 'left';
        heavyText(ctx, p.headLeft, a.left + p.headLeftDx, p.headY, 19);
      }
      ctx.textAlign = 'right';
      heavyText(ctx, p.headRight, a.right + p.headRightDx, p.headY, 19);
      ctx.textAlign = 'left';
      heavyText(ctx, p.eq, a.left + p.eqDx, a.top + p.eqDy, 19);
      ctx.textAlign = 'center';
      heavyText(ctx, p.tag, a.right + p.tagDx, a.top + p.tagDy, 22);

      // axis titles
      ctx.textBaseline = 'middle';
      heavyText(ctx, p.xTitle, (a.left + a.right) / 2, a.bottom + p.xTitleDy, 19);
      ctx.save();
      ctx.translate(a.left + p.yTitleDx, (a.top + a.bottom) / 2);
      ctx.rotate(-Math.PI / 2);
      heavyText(ctx, p.yTitle, 0, 0, 16);
      ctx.restore();

      if (p.stray) {
        ctx.textBaseline = 'alphabetic';
        heavyText(ctx, '.', a.right + p.stray[0], a.bottom + p.stray[1], 16);
      }
      ctx.restore();
    }
  };
}

function makePanel(p) {
  const yMin = p.yTicks[0], yMax = p.yTicks[p.yTicks.length - 1];
  const fitLine = fitSpan.map(v => ({ x: v, y: p.fit[0] + p.fit[1] * v }));
  new Chart(document.getElementById(p.id), {
    type: 'scatter',
    data: {
      datasets: [
        {
          data: p.points.map(([x, y]) => ({ x, y })),
          backgroundColor: '#000',
          borderWidth: 0,
          pointRadius: 4.1,
          pointStyle: 'circle'
        },
        {
          data: fitLine,
          showLine: true,
          borderColor: '#000',
          borderWidth: 2,
          pointRadius: 0
        }
      ]
    },
    options: {
      responsive: false,
      animation: false,
      devicePixelRatio: 1,
      events: [],
      layout: { padding: { top: p.padTop, right: p.padRight, left: 0, bottom: 0 } },
      plugins: { legend: { display: false }, tooltip: { enabled: false } },
      scales: {
        x: {
          type: 'linear',
          min: sstTicks[0],
          max: sstTicks[sstTicks.length - 1],
          afterBuildTicks: s => { s.ticks = sstTicks.map(v => ({ value: v })); },
          afterFit: s => { s.height = p.xHeight; s.paddingLeft = 0; s.paddingRight = 0; },
          grid: { display: false },
          border: { display: false },
          ticks: {
            autoSkip: false,
            maxRotation: 0,
            padding: 13,
            font: { size: 21, weight: 'bold' },
            textStrokeColor: '#000',
            textStrokeWidth: 1,
            callback: v => Number(v).toFixed(1)
          },
          title: { display: false }
        },
        y: {
          type: 'linear',
          min: yMin,
          max: yMax,
          afterBuildTicks: s => { s.ticks = p.yTicks.map(v => ({ value: v })); },
          afterFit: s => { s.width = p.yWidth; s.paddingTop = 0; s.paddingBottom = 0; },
          grid: { display: false },
          border: { display: false },
          ticks: {
            autoSkip: false,
            padding: p.yTickPad,
            font: { size: 19, weight: 'bold' },
            textStrokeColor: '#000',
            textStrokeWidth: 1,
            callback: v => Number(v).toFixed(p.yDigits)
          },
          title: { display: false }
        }
      }
    },
    plugins: [framePlugin(p)]
  });
}

panels.forEach(makePanel);
</script>
</body>
</html>
